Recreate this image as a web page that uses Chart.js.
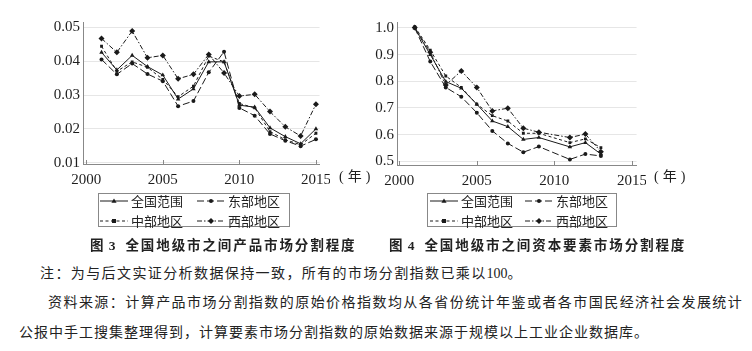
<!DOCTYPE html>
<html>
<head>
<meta charset="utf-8">
<script src="https://cdn.jsdelivr.net/npm/chart.js@4.4.0/dist/chart.umd.min.js"></script>
<style>
  body { margin: 0; width: 752px; height: 351px; background: #fff; position: relative; overflow: hidden;
         font-family: "Noto Sans CJK SC", sans-serif; color: #222; }
  canvas { position: absolute; }
  .unit { position: absolute; font-size: 14px; line-height: 14px; white-space: nowrap; font-family: "Liberation Serif", serif; color: #1e1e1e; }
  .unit span { font-family: "Noto Sans CJK SC", sans-serif; margin: 0 4px 0 4px; }
  .legend { position: absolute; border: 1px solid #888; box-sizing: border-box; }
  .item { position: absolute; height: 14px; display: flex; align-items: center; font-size: 13px; line-height: 14px; white-space: nowrap; }
  .item svg { margin-right: 3px; }
  .txt { position: absolute; white-space: nowrap; font-size: 14px; line-height: 16px; letter-spacing: 1px; }
  .cap { font-weight: bold; font-size: 13.5px; letter-spacing: 1.9px; }
  .num { font-family: "Liberation Serif", serif; letter-spacing: 0; }
</style>
</head>
<body>
<canvas id="chart3" width="300" height="184" style="left:30px;top:10px"></canvas>
<canvas id="chart4" width="302" height="185" style="left:344px;top:10px"></canvas>
<div class="unit" style="left:339px;top:168px">(<span>年</span>)</div>
<div class="unit" style="left:654px;top:168px">(<span>年</span>)</div>
<div id="legend3" class="legend" style="left:98px;top:193px;width:192px;height:34px"></div>
<div id="legend4" class="legend" style="left:427px;top:193px;width:190px;height:34px"></div>

<div class="txt cap" style="left:90px;top:236px">图<span class="num"> 3</span>&nbsp;&nbsp;全国地级市之间产品市场分割程度</div>
<div class="txt cap" style="left:389px;top:236px">图<span class="num"> 4</span>&nbsp;&nbsp;全国地级市之间资本要素市场分割程度</div>
<div class="txt" style="left:40px;top:264px;letter-spacing:1.4px">注：为与后文实证分析数据保持一致，所有的市场分割指数已乘以<span class="num">100</span>。</div>
<div class="txt" style="left:48px;top:293px;letter-spacing:1.45px">资料来源：计算产品市场分割指数的原始价格指数均从各省份统计年鉴或者各市国民经济社会发展统计</div>
<div class="txt" style="left:19px;top:323px">公报中手工搜集整理得到，计算要素市场分割指数的原始数据来源于规模以上工业企业数据库。</div>

<script>
// 图3 产品市场分割 (2001-2015)
const years3 = [2001, 2002, 2003, 2004, 2005, 2006, 2007, 2008, 2009, 2010, 2011, 2012, 2013, 2014, 2015];
const quanguo3 = [0.0426, 0.0374, 0.0417, 0.0384, 0.0359, 0.0288, 0.0318, 0.0398, 0.0398, 0.0270, 0.0264, 0.0203, 0.0177, 0.0156, 0.0200];
const dongbu3  = [0.0405, 0.0361, 0.0393, 0.0362, 0.0341, 0.0267, 0.0282, 0.0367, 0.0428, 0.0262, 0.0239, 0.0185, 0.0165, 0.0149, 0.0169];
const zhongbu3 = [0.0444, 0.0370, 0.0398, 0.0382, 0.0346, 0.0295, 0.0326, 0.0415, 0.0398, 0.0275, 0.0262, 0.0192, 0.0168, 0.0153, 0.0187];
const xibu3    = [0.0467, 0.0426, 0.0489, 0.0410, 0.0417, 0.0348, 0.0361, 0.0420, 0.0365, 0.0297, 0.0302, 0.0251, 0.0206, 0.0179, 0.0273];

// 图4 资本要素市场分割 (2010年缺失)
const years4 = [2001, 2002, 2003, 2004, 2005, 2006, 2007, 2008, 2009, 2011, 2012, 2013];
const quanguo4 = [1.000, 0.900, 0.799, 0.774, 0.714, 0.651, 0.630, 0.582, 0.589, 0.554, 0.570, 0.527];
const dongbu4  = [1.000, 0.874, 0.777, 0.742, 0.682, 0.614, 0.567, 0.534, 0.555, 0.507, 0.527, 0.520];
const zhongbu4 = [1.005, 0.917, 0.820, 0.777, 0.714, 0.671, 0.651, 0.605, 0.605, 0.570, 0.584, 0.551];
const xibu4    = [1.002, 0.909, 0.786, 0.839, 0.777, 0.689, 0.699, 0.624, 0.609, 0.589, 0.602, 0.536];

const seriesNames = ['全国范围', '东部地区', '中部地区', '西部地区'];
const xTicks = [2000, 2005, 2010, 2015];
const yTicks3 = ['0.01', '0.02', '0.03', '0.04', '0.05'];
const yTicks4 = ['0.5', '0.6', '0.7', '0.8', '0.9', '1.0'];

const ink = '#1a1a1a';
const lineStyles = [
    { dash: [], point: 'triangle', r: 2.6 },
    { dash: [7, 3], point: 'circle', r: 2 },
    { dash: [3, 2.5], point: 'rect', r: 2 },
    { dash: [5, 2, 1.5, 2], point: 'rectRot', r: 3 }
];
const tickFont = { family: '"Liberation Serif", serif', size: 15 };

// small tick marks pointing into the plot on the x axis
const innerTicks = {
    id: 'innerTicks',
    afterDraw(chart) {
        const { ctx, chartArea } = chart;
        const x = chart.scales.x;
        ctx.save();
        ctx.strokeStyle = '#888';
        ctx.lineWidth = 1;
        x.ticks.forEach(t => {
            const px = Math.round(x.getPixelForValue(t.value)) + 0.5;
            ctx.beginPath();
            ctx.moveTo(px, chartArea.bottom);
            ctx.lineTo(px, chartArea.bottom - 4);
            ctx.stroke();
        });
        ctx.restore();
    }
};

function makeChart(id, years, values, xMin, xMax, yMin, yMax, yTicks) {
    const datasets = values.map((vals, i) => ({
        label: seriesNames[i],
        data: years.map((yr, j) => ({ x: yr, y: vals[j] })),
        borderColor: ink,
        borderWidth: 1,
        borderDash: lineStyles[i].dash,
        backgroundColor: ink,
        pointStyle: lineStyles[i].point,
        pointRadius: lineStyles[i].r,
        pointBorderWidth: 0,
        pointBackgroundColor: ink,
        tension: 0
    }));

    return new Chart(document.getElementById(id), {
        type: 'line',
        data: { datasets },
        plugins: [innerTicks],
        options: {
            responsive: false,
            animation: false,
            devicePixelRatio: 1,
            layout: { padding: { top: 12, right: 4, left: 0, bottom: 0 } },
            plugins: { legend: { display: false }, tooltip: { enabled: false } },
            scales: {
                x: {
                    type: 'linear',
                    min: xMin,
                    max: xMax,
                    afterBuildTicks: s => { s.ticks = xTicks.map(v => ({ value: v })); },
                    afterFit: s => { s.height = 30; },
                    grid: { display: false },
                    border: { display: true, color: '#888', width: 1 },
                    ticks: { color: '#1e1e1e', font: tickFont, padding: -1, maxRotation: 0, callback: v => String(v) }
                },
                y: {
                    min: yMin,
                    max: yMax,
                    afterBuildTicks: s => { s.ticks = yTicks.map(v => ({ value: parseFloat(v) })); },
                    afterFit: s => { s.width = 53; },
                    grid: { color: '#e6e6e6', drawTicks: false },
                    border: { display: true, color: '#888', width: 1 },
                    ticks: {
                        color: '#1e1e1e', font: tickFont, padding: 3,
                        callback: v => yTicks.find(t => Math.abs(parseFloat(t) - v) < 1e-9)
                    }
                }
            }
        }
    });
}

makeChart('chart3', years3, [quanguo3, dongbu3, zhongbu3, xibu3], 1999.79, 2015.235, 0.00962, 0.05157, yTicks3);
makeChart('chart4', years4, [quanguo4, dongbu4, zhongbu4, xibu4], 1999.855, 2015.3, 0.486, 1.0225, yTicks4);

// legends: line sample with marker + name, two per row
function sampleSvg(style) {
    const w = 28, h = 10, cy = 5, cx = 14;
    let mark = '';
    const r = style.r;
    if (style.point === 'circle') mark = `<circle cx="${cx}" cy="${cy}" r="${r}" fill="${ink}"/>`;
    if (style.point === 'rect') mark = `<rect x="${cx - r}" y="${cy - r}" width="${2 * r}" height="${2 * r}" fill="${ink}"/>`;
    if (style.point === 'rectRot') mark = `<polygon points="${cx},${cy - r} ${cx + r},${cy} ${cx},${cy + r} ${cx - r},${cy}" fill="${ink}"/>`;
    if (style.point === 'triangle') mark = `<polygon points="${cx},${cy - r} ${cx + r},${cy + r * 0.7} ${cx - r},${cy + r * 0.7}" fill="${ink}"/>`;
    const dash = style.dash.length ? `stroke-dasharray="${style.dash.join(' ')}"` : '';
    return `<svg width="${w}" height="${h}"><line x1="0" y1="${cy}" x2="${w}" y2="${cy}" stroke="${ink}" stroke-width="1" ${dash}/>${mark}</svg>`;
}

function buildLegend(id, cols) {
    const box = document.getElementById(id);
    seriesNames.forEach((name, i) => {
        const el = document.createElement('div');
        el.className = 'item';
        el.style.left = cols[i % 2] + 'px';
        el.style.top = (i < 2 ? 0 : 20) + 'px';
        el.innerHTML = sampleSvg(lineStyles[i]) + '<span>' + name + '</span>';
        box.appendChild(el);
    });
}
buildLegend('legend3', [1, 98]);
buildLegend('legend4', [2, 97]);
</script>
</body>
</html>
